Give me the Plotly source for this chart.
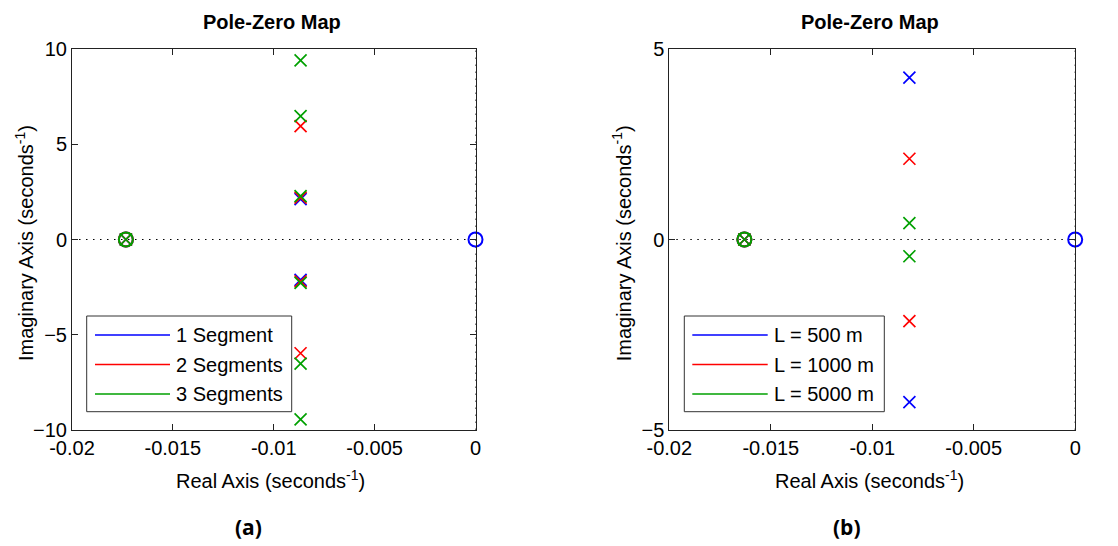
import plotly.graph_objects as go

# Panel (a): poles/zeros for lumped pipeline models with 1, 2 and 3 segments
seg_names = ["1 Segment", "2 Segments", "3 Segments"]
seg_pole_re = [-0.00867, -0.00867, -0.00867]
seg_pole_im = [
    [2.12, -2.12],
    [2.2, -2.2, 5.95, -5.97],
    [2.28, -2.28, 6.48, -6.52, 9.4, -9.44],
]
seg_cancel_re = -0.01733          # coincident pole/zero pair on the real axis
seg_zero_origin = [True, False, False]

# Panel (b): poles/zeros for pipe lengths of 500, 1000 and 5000 m
len_names = ["L = 500 m", "L = 1000 m", "L = 5000 m"]
len_pole_re = [-0.00817, -0.00817, -0.00817]
len_pole_im = [
    [4.25, -4.27],
    [2.12, -2.14],
    [0.43, -0.44],
]
len_cancel_re = -0.0163
len_zero_origin = [True, False, False]

colors = ["#0000ff", "#ff0000", "#00a000"]

x_ticks = [-0.02, -0.015, -0.01, -0.005, 0]
x_ticktext = ["-0.02", "-0.015", "-0.01", "-0.005", "0"]
ya_ticks = [-10, -5, 0, 5, 10]
yb_ticks = [-5, 0, 5]

FONT = "Liberation Sans"
W, H = 1118, 546

fig = go.Figure()


def add_panel(names, pole_re, pole_im, cancel_re, zero_origin, xa, ya):
    for i, name in enumerate(names):
        c = colors[i]
        zx = [cancel_re] + ([0] if zero_origin[i] else [])
        fig.add_trace(go.Scatter(
            x=zx, y=[0] * len(zx), mode="markers", name=name, showlegend=False,
            marker=dict(symbol="circle-open", size=14, color=c, line=dict(width=2, color=c)),
            xaxis=xa, yaxis=ya, cliponaxis=False))
        px = [pole_re[i]] * len(pole_im[i]) + [cancel_re]
        py = list(pole_im[i]) + [0]
        fig.add_trace(go.Scatter(
            x=px, y=py, mode="markers", name=name, showlegend=False,
            marker=dict(symbol="x-thin", size=12, color=c, line=dict(width=1.7, color=c)),
            xaxis=xa, yaxis=ya, cliponaxis=False))


add_panel(seg_names, seg_pole_re, seg_pole_im, seg_cancel_re, seg_zero_origin, "x", "y")
add_panel(len_names, len_pole_re, len_pole_im, len_cancel_re, len_zero_origin, "x2", "y2")

# pixel layout helpers
ax_a = (72, 475.5)
ax_b = (669.3, 1075.2)
top, bot = 49, 430
ydom = [(H - bot) / H, (H - top) / H]

axis_common = dict(
    showgrid=False, zeroline=False, showline=True, linecolor="#222222", linewidth=1,
    mirror="ticks", ticks="inside", ticklen=6, tickcolor="#222222",
    tickfont=dict(family=FONT, size=20, color="black"),
)

fig.update_layout(
    width=W, height=H, margin=dict(l=0, r=0, t=0, b=0, autoexpand=False),
    paper_bgcolor="white", plot_bgcolor="white", showlegend=False,
    xaxis=dict(domain=[ax_a[0] / W, ax_a[1] / W], range=[-0.02, 0], tickvals=x_ticks,
               ticktext=x_ticktext, anchor="y", **axis_common),
    yaxis=dict(domain=ydom, range=[-10, 10], tickvals=ya_ticks, anchor="x", **axis_common),
    xaxis2=dict(domain=[ax_b[0] / W, ax_b[1] / W], range=[-0.02, 0], tickvals=x_ticks,
                ticktext=x_ticktext, anchor="y2", **axis_common),
    yaxis2=dict(domain=ydom, range=[-5, 5], tickvals=yb_ticks, anchor="x2", **axis_common),
)

# dotted reference lines on the real and imaginary axes
for xa, ya in (("x", "y"), ("x2", "y2")):
    fig.add_shape(type="line", xref=xa + " domain", yref=ya, x0=0, x1=1, y0=0, y1=0,
                  line=dict(color="black", width=1, dash="1.5px,5.5px"), layer="below")
    fig.add_shape(type="line", xref=xa, yref=ya + " domain", x0=0, x1=0, y0=0, y1=1,
                  line=dict(color="black", width=1, dash="1.5px,5.5px"), layer="below")


def px_x(p):
    return p / W


def px_y(p):
    return 1 - p / H


def label(text, x, y, size, family=FONT, angle=0, xanchor="center"):
    fig.add_annotation(text=text, x=px_x(x), y=px_y(y), xref="paper", yref="paper",
                       xanchor=xanchor, yanchor="middle", showarrow=False, textangle=angle,
                       font=dict(family=family, size=size, color="black"))


def add_labels(ax, caption):
    cx = (ax[0] + ax[1]) / 2
    label("<b>Pole-Zero Map</b>", cx - 2, 22, 20)
    label("Real Axis (seconds<sup>-1</sup>)", cx - 3, 479, 20)
    label("Imaginary Axis (seconds<sup>-1</sup>)", ax[0] - 47, 243, 20, angle=-90)
    label("<b>" + caption + "</b>", cx - 25, 527, 21, family="Open Sans")


add_labels(ax_a, "(a)")
add_labels(ax_b, "(b)")


def add_legend(names, box, line_x, text_x, rows):
    fig.add_shape(type="rect", xref="paper", yref="paper",
                  x0=px_x(box[0]), x1=px_x(box[1]), y0=px_y(box[2]), y1=px_y(box[3]),
                  line=dict(color="#333333", width=1), fillcolor="white")
    for i, name in enumerate(names):
        fig.add_shape(type="line", xref="paper", yref="paper",
                      x0=px_x(line_x[0]), x1=px_x(line_x[1]), y0=px_y(rows[i]), y1=px_y(rows[i]),
                      line=dict(color=colors[i], width=1.3))
        label(name, text_x, rows[i], 20, xanchor="left")


rows = [335, 364.5, 394]
add_legend(seg_names, (86.7, 291.7, 316, 411.7), (95, 170), 174, rows)
add_legend(len_names, (684.3, 884.3, 316, 411.7), (692.3, 767.7), 772, rows)

fig.write_html("out.html")
